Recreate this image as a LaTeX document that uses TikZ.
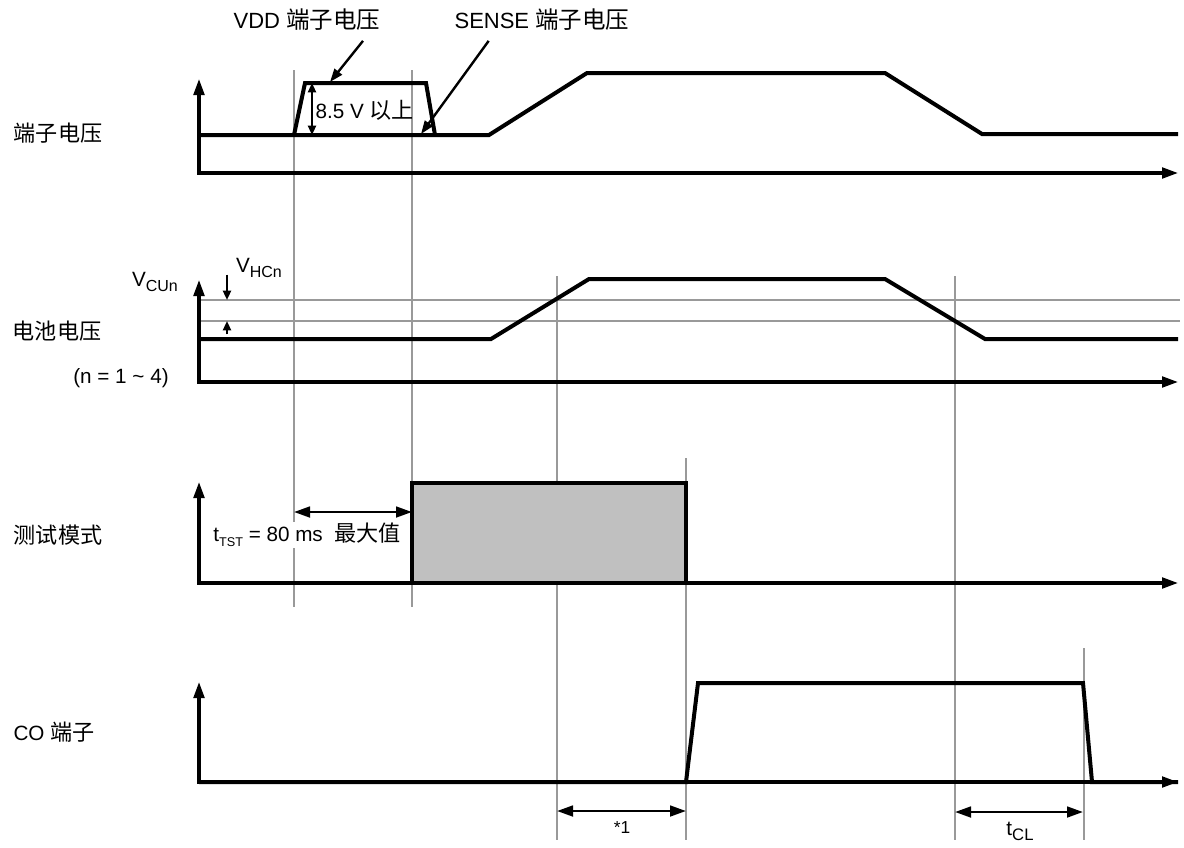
\documentclass[tikz,border=0pt]{standalone}
\usepackage{fontspec}
\setmainfont{Liberation Sans}
\newfontfamily\cjk[Scale=1.07]{Noto Sans CJK SC}
\usetikzlibrary{arrows.meta,positioning}
\newcommand\lowidx[2][10.5]{\raisebox{-0.45ex}{\fontsize{#1}{11}\selectfont #2}}
\definecolor{modegray}{RGB}{192,192,192}

\begin{document}
\begin{tikzpicture}[x=0.75pt,y=-0.75pt,
font=\fontsize{15.5}{18}\selectfont,
>={Triangle[length=12pt,width=8pt]},
sig/.style={line width=3pt,line join=miter},
axis/.style={line width=2.3pt,<->},
gridline/.style={line width=1pt,draw=black!40},
dim/.style={line width=2pt,<->},
smalldim/.style={line width=1.6pt,{Triangle[length=7pt,width=6pt]}-{Triangle[length=7pt,width=6pt]}},
pointer/.style={line width=1.8pt,-{Triangle[length=10pt,width=7pt]}},
tick/.style={line width=1.6pt,-{Triangle[length=7pt,width=6pt]}},
toplabel/.style={font=\fontsize{16.5}{19}\selectfont}]
\useasboundingbox (0,0) rectangle (1184,847);

% grid lines
\foreach \x/\ya/\yb in {294/70/607, 412/70/607, 557/276/840, 686/458/840, 955/276/840, 1084/648/840}
  \draw[gridline] (\x,\ya) -- (\x,\yb);
\draw[gridline] (199,300) -- (1180,300);
\draw[gridline] (199,321) -- (1180,321);

% row labels
\node(pin) at (58,133){\cjk 端子电压};
\node(cell) at (57,331){\cjk 电池电压};
\node(cellnum) at (121,378){(n = 1 \textasciitilde\ 4)};
\node(test) at (58,535){\cjk 测试模式};
\node(co) at (54,732){CO {\cjk 端子}};

% terminal voltage
\draw[axis] (199,79) |- (1178,173);
\draw[sig] (199,135) -- (489,135) -- (587,73) -- (885,73) -- (982,134) -- (1178,134);
\draw[sig] (294,135) -- (305,83) -- (426,83) -- (435,135);
\draw[smalldim] (312,83) -- (312,135);
\node[anchor=west,inner sep=1pt](lvl) at (314,110){8.5 V {\cjk 以上}};
\node[toplabel](vdd) at (307,20){VDD {\cjk 端子电压}};
\node[toplabel](sense) at (542,20){SENSE {\cjk 端子电压}};
\coordinate (vddtop) at (330,82);
\coordinate (sensefoot) at (421,134);
\draw[pointer] ([xshift=42pt,yshift=-4pt]vdd.south) -- (vddtop);
\draw[pointer] ([xshift=-40pt,yshift=-4pt]sense.south) -- (sensefoot);

% cell voltage
\draw[axis] (199,280) |- (1178,382);
\draw[sig] (199,339) -- (491,339) -- (589,279) -- (885,279) -- (985,339) -- (1178,339);
\node(vcu) at (155,282){V\lowidx[12]{CUn}};
\node(vhc) at (259,268){V\lowidx[12]{HCn}};
\coordinate (hctop) at (227,300);
\coordinate (hcbot) at (227,321);
\draw[tick] ([yshift=19pt]hctop) -- (hctop);
\draw[tick] ([yshift=-10pt]hcbot) -- (hcbot);

% test mode
\draw[sig,fill=modegray] (412,583) -- (412,483) -- (686,483) -- (686,583);
\draw[axis] (199,482) |- (1178,583);
\draw[dim] (294,512) -- (412,512);
\node[fill=white,inner sep=1pt](tst) at (307,535){t\lowidx[9.5]{TST} = 80 ms\ \ {\cjk 最大值}};

% CO pin
\draw[axis] (199,682) |- (1178,782);
\draw[sig] (199,782) -- (686,782) -- (698,683) -- (1083,683) -- (1092,782) -- (1178,782);
\draw[dim] (557,811) -- (686,811);
\node(note) at (622,828){\fontsize{13}{14}\selectfont *1};
\draw[dim] (955,812) -- (1083,812);
\node(tcl) at (1020,831){t\lowidx[12.5]{CL}};

\end{tikzpicture}
\end{document}
